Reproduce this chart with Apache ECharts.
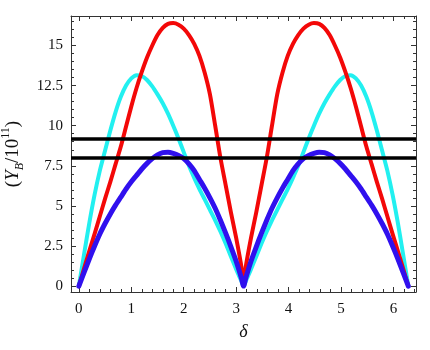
<!DOCTYPE html>
<html><head><meta charset="utf-8">
<script src="https://cdn.jsdelivr.net/npm/echarts@6/dist/echarts.min.js"></script>
<style>html,body{margin:0;padding:0;background:#fff}#c{width:430px;height:350px}</style>
</head><body><div id="c"></div>
<script>
const delta = [0,0.1,0.2,0.3,0.4,0.5,0.6,0.7,0.8,0.9,1.0,1.1,1.2,1.3,1.4,1.5,1.6,1.7,1.8,1.9,2.0,2.1,2.2,2.3,2.4,2.5,2.6,2.7,2.8,2.9,3.0,3.1,3.1416,
  3.1832,3.2832,3.3832,3.4832,3.5832,3.6832,3.7832,3.8832,3.9832,4.0832,4.1832,4.2832,4.3832,4.4832,4.5832,4.6832,4.7832,4.8832,4.9832,5.0832,5.1832,5.2832,5.3832,5.4832,5.5832,5.6832,5.7832,5.8832,5.9832,6.0832,6.1832,6.2832];
const redY = [0,1.1,2.2,3.25,4.35,5.45,6.5,7.6,8.7,9.95,11.2,12.35,13.35,14.25,15.0,15.65,16.1,16.35,16.4,16.3,16.05,15.65,15.1,14.35,13.3,11.95,10.0,8.0,6.3,4.6,3.0,1.2,0,
  1.2,3.0,4.6,6.3,8.0,10.0,11.95,13.3,14.35,15.1,15.65,16.05,16.3,16.4,16.35,16.1,15.65,15.0,14.25,13.35,12.35,11.2,9.95,8.7,7.6,6.5,5.45,4.35,3.25,2.2,1.1,0];
const cyanY = [0,2.0,3.95,5.7,7.2,8.45,9.7,10.85,11.8,12.5,12.95,13.15,13.1,12.85,12.45,11.95,11.4,10.75,10.0,9.2,8.35,7.5,6.75,6.05,5.4,4.75,4.1,3.4,2.65,1.85,1.05,0.3,0,
  0.3,1.05,1.85,2.65,3.4,4.1,4.75,5.4,6.05,6.75,7.5,8.35,9.2,10.0,10.75,11.4,11.95,12.45,12.85,13.1,13.15,12.95,12.5,11.8,10.85,9.7,8.45,7.2,5.7,3.95,2.0,0];
const blueY = [0,0.85,1.7,2.5,3.25,3.9,4.5,5.05,5.55,6.05,6.5,6.9,7.3,7.65,7.95,8.18,8.32,8.35,8.28,8.15,7.95,7.62,7.2,6.65,6.1,5.5,4.85,4.1,3.3,2.45,1.55,0.5,0,
  0.5,1.55,2.45,3.3,4.1,4.85,5.5,6.1,6.65,7.2,7.62,7.95,8.15,8.28,8.35,8.32,8.18,7.95,7.65,7.3,6.9,6.5,6.05,5.55,5.05,4.5,3.9,3.25,2.5,1.7,0.85,0];
const hLines = [9.2, 8.0];
const xMajor = [0,1,2,3,4,5,6];
const xMinor = [0.2,0.4,0.6,0.8,1.2,1.4,1.6,1.8,2.2,2.4,2.6,2.8,3.2,3.4,3.6,3.8,4.2,4.4,4.6,4.8,5.2,5.4,5.6,5.8,6.2,6.4];
const yMajor = [0,2.5,5,7.5,10,12.5,15];
const yMajorLabels = ['0','2.5','5','7.5','10','12.5','15'];
const yMinor = [0.5,1,1.5,2,3,3.5,4,4.5,5.5,6,6.5,7,8,8.5,9,9.5,10.5,11,11.5,12,13,13.5,14,14.5,15.5,16,16.5];

const X_MIN = -0.15, X_MAX = 6.43, Y_MIN = -0.37, Y_MAX = 16.84;
const FONT = 'Liberation Serif';
const frame = '#333';

function mk(arr){ return delta.map((d,i)=>[d,arr[i]]); }
function xAx(pos, ticks, len, showLine, showLabel){
  return {type:'value', position:pos, min:X_MIN, max:X_MAX, splitLine:{show:false},
    axisLine:{show:showLine, onZero:false, lineStyle:{color:frame,width:1}},
    axisTick:{show:true, inside:true, length:len, customValues:ticks, lineStyle:{color:frame,width:1}},
    axisLabel:{show:showLabel, customValues:ticks, margin:10, color:'#111', fontFamily:FONT, fontSize:15}};
}
function yAx(pos, ticks, len, showLine, showLabel){
  return {type:'value', position:pos, min:Y_MIN, max:Y_MAX, splitLine:{show:false},
    axisLine:{show:showLine, onZero:false, lineStyle:{color:frame,width:1}},
    axisTick:{show:true, inside:true, length:len, customValues:ticks, lineStyle:{color:frame,width:1}},
    axisLabel:{show:showLabel, customValues:ticks, margin:8, color:'#111', fontFamily:FONT, fontSize:15,
      formatter:(v)=>{const i=yMajor.indexOf(v);return i>=0?yMajorLabels[i]:'';}}};
}
const xa0 = xAx('bottom', xMajor, 5, true, true);
xa0.name = 'δ'; xa0.nameLocation='middle'; xa0.nameGap=31;
xa0.nameTextStyle = {fontFamily:FONT, fontSize:18, fontStyle:'italic', color:'#111'};
const ya0 = yAx('left', yMajor, 5, true, true);
ya0.name = '({i|Y}{sub|B}/10{sup|11})'; ya0.nameLocation='middle'; ya0.nameGap=42; ya0.nameRotate=90;
ya0.nameTextStyle = {fontFamily:FONT, fontSize:19, color:'#111', lineHeight:26,
  rich:{ i:{fontFamily:FONT, fontSize:19, fontStyle:'italic', color:'#111', lineHeight:26},
         sub:{fontFamily:FONT, fontSize:12, fontStyle:'italic', color:'#111', lineHeight:13, verticalAlign:'bottom'},
         sup:{fontFamily:FONT, fontSize:12, color:'#111', lineHeight:13, verticalAlign:'top'} }};

const chart = echarts.init(document.getElementById('c'), null, {renderer:'canvas'});
function line(data, color, w, z){
  return {type:'line', data:mk(data), showSymbol:false, smooth:0.25, z:z, animation:false,
    lineStyle:{color:color, width:w, cap:'round', join:'round'}};
}
chart.setOption({
  animation:false,
  backgroundColor:'#fff',
  grid:{left:71, top:16, right:14, bottom:58, containLabel:false, outerBoundsMode:'none'},
  xAxis:[xa0, xAx('bottom', xMinor, 3, false, false), xAx('top', xMajor, 5, true, false), xAx('top', xMinor, 3, false, false)],
  yAxis:[ya0, yAx('left', yMinor, 3, false, false), yAx('right', yMajor, 5, true, false), yAx('right', yMinor, 3, false, false)],
  series:[
    line(cyanY, '#22f0f0', 4, 2),
    line(redY, '#f30808', 4, 3),
    line(blueY, '#3010ee', 5, 4),
    {type:'line', data:[], z:5, animation:false,
     markLine:{silent:true, symbol:'none', animation:false, label:{show:false},
       lineStyle:{color:'#000', width:3.5, type:'solid'},
       data: hLines.map(v=>({yAxis:v}))}}
  ]
});
</script></body></html>
